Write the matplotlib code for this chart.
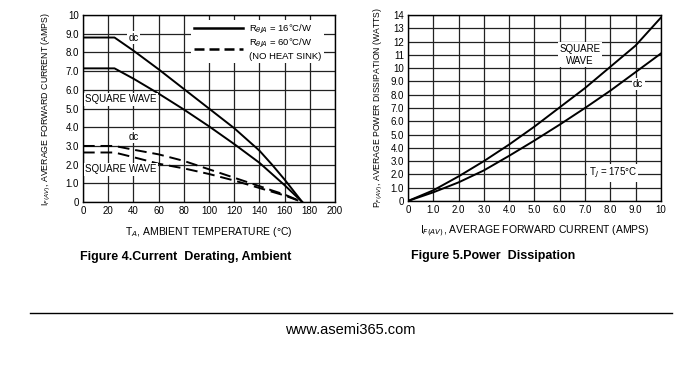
import numpy as np
import matplotlib.pyplot as plt
from matplotlib.lines import Line2D

plt.rcParams['font.family'] = ['Liberation Sans', 'DejaVu Sans']

# Figure 4: current derating vs ambient temperature
temp = [0, 25, 40, 60, 80, 100, 120, 140, 150, 160, 174]
dc_16 = [8.8, 8.8, 8.1, 7.1, 6.05, 5.0, 3.95, 2.75, 2.0, 1.2, 0.0]
sq_16 = [7.15, 7.15, 6.6, 5.8, 4.95, 4.05, 3.1, 2.1, 1.5, 0.9, 0.0]
dc_60 = [3.0, 3.0, 2.8, 2.55, 2.2, 1.75, 1.3, 0.85, 0.62, 0.4, 0.0]
sq_60 = [2.65, 2.65, 2.4, 2.05, 1.8, 1.5, 1.15, 0.75, 0.55, 0.35, 0.0]

# Figure 5: power dissipation vs forward current
cur = [0, 1, 2, 3, 4, 5, 6, 7, 8, 9, 10]
p_sq = [0, 0.8, 1.85, 3.0, 4.25, 5.6, 7.05, 8.5, 10.1, 11.7, 13.8]
p_dc = [0, 0.65, 1.4, 2.3, 3.4, 4.55, 5.75, 7.0, 8.3, 9.7, 11.1]

fig = plt.figure(figsize=(7, 3.68), dpi=100)
ax1 = fig.add_axes([0.1186, 0.451, 0.36, 0.508])
ax2 = fig.add_axes([0.583, 0.454, 0.361, 0.505])

tick_fs = 7
box = dict(facecolor='white', edgecolor='none', pad=1)

for ax in (ax1, ax2):
    ax.grid(True, color='#222222', lw=0.9)
    ax.set_axisbelow(True)
    ax.tick_params(length=0, labelsize=tick_fs, pad=3)
    for s in ax.spines.values():
        s.set_linewidth(1.0)

# left chart
ax1.plot(temp, dc_16, color='black', lw=1.4)
ax1.plot(temp, sq_16, color='black', lw=1.4)
ax1.plot(temp, dc_60, color='black', lw=1.4, ls=(0, (6, 3)))
ax1.plot(temp, sq_60, color='black', lw=1.4, ls=(0, (6, 3)))
ax1.set_xlim(0, 200)
ax1.set_ylim(0, 10)
ax1.set_xticks(np.arange(0, 201, 20))
ax1.set_yticks(np.arange(0, 11, 1))
ax1.set_yticklabels(['0', '1.0', '2.0', '3.0', '4.0', '5.0', '6.0', '7.0', '8.0', '9.0', '10'])
ax1.set_xlabel('T$_A$, AMBIENT TEMPERATURE (°C)', fontsize=7.5, labelpad=6)
ax1.set_ylabel('I$_{F(AV)}$, AVERAGE FORWARD CURRENT (AMPS)', fontsize=6.3, labelpad=9)
ax1.text(40, 8.8, 'dc', fontsize=7, ha='center', va='center', bbox=box)
ax1.text(30, 5.5, 'SQUARE WAVE', fontsize=7, ha='center', va='center', bbox=box)
ax1.text(40, 3.5, 'dc', fontsize=7, ha='center', va='center', bbox=box)
ax1.text(30, 1.75, 'SQUARE WAVE', fontsize=7, ha='center', va='center', bbox=box)

handles = [Line2D([], [], color='black', lw=1.8),
           Line2D([], [], color='black', lw=1.8, ls=(0, (4, 2)))]
leg = ax1.legend(handles, ['R$_{\\theta JA}$ = 16°C/W', 'R$_{\\theta JA}$ = 60°C/W\n(NO HEAT SINK)'],
                 loc='upper right', bbox_to_anchor=(0.975, 1.0), fontsize=6.8,
                 frameon=True, fancybox=False, handlelength=5.2, handletextpad=0.6,
                 borderpad=0.3, labelspacing=0.15)
leg.get_frame().set_edgecolor('none')
leg.get_frame().set_alpha(1)

# right chart
ax2.plot(cur, p_sq, color='black', lw=1.4)
ax2.plot(cur, p_dc, color='black', lw=1.4)
ax2.set_xlim(0, 10)
ax2.set_ylim(0, 14)
ax2.set_xticks(np.arange(0, 11, 1))
ax2.set_xticklabels(['0', '1.0', '2.0', '3.0', '4.0', '5.0', '6.0', '7.0', '8.0', '9.0', '10'])
ax2.set_yticks(np.arange(0, 15, 1))
ax2.set_yticklabels(['0', '1.0', '2.0', '3.0', '4.0', '5.0', '6.0', '7.0', '8.0', '9.0',
                     '10', '11', '12', '13', '14'])
ax2.set_xlabel('I$_{F(AV)}$, AVERAGE FORWARD CURRENT (AMPS)', fontsize=7.5, labelpad=6)
ax2.set_ylabel('P$_{F(AV)}$, AVERAGE POWER DISSIPATION (WATTS)', fontsize=6.2, labelpad=4)
ax2.text(6.8, 11.0, 'SQUARE\nWAVE', fontsize=7, ha='center', va='center', bbox=box,
         linespacing=1.3)
ax2.text(9.1, 8.8, 'dc', fontsize=7, ha='center', va='center', bbox=box)
ax2.text(8.1, 2.1, 'T$_J$ = 175°C', fontsize=7, ha='center', va='center', bbox=box)

# captions and footer
fig.text(0.265, 0.302, 'Figure 4.Current  Derating, Ambient', fontsize=9, fontweight='bold',
         ha='center', va='center')
fig.text(0.704, 0.305, 'Figure 5.Power  Dissipation', fontsize=9, fontweight='bold',
         ha='center', va='center')
fig.add_artist(Line2D([0.043, 0.96], [0.149, 0.149], color='black', lw=1.0))
fig.text(0.5, 0.103, 'www.asemi365.com', fontsize=10.5, ha='center', va='center')

fig.savefig('out.png', dpi=100)
